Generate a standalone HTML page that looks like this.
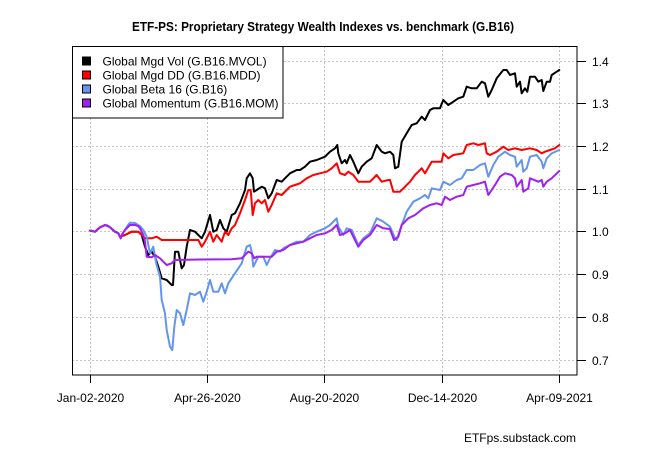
<!DOCTYPE html>
<html>
<head>
<meta charset="utf-8">
<style>
html,body{margin:0;padding:0;background:#fff;}
svg{display:block;}
text{font-family:"Liberation Sans",Arial,sans-serif;fill:#000;}
</style>
</head>
<body>
<svg width="650" height="450" viewBox="0 0 650 450" xmlns="http://www.w3.org/2000/svg">
<rect width="650" height="450" fill="#fff"/>
<text x="323" y="31" font-size="13" font-weight="bold" text-anchor="middle" textLength="382" lengthAdjust="spacingAndGlyphs">ETF-PS: Proprietary Strategy Wealth Indexes vs. benchmark (G.B16)</text>

<g stroke="#c4c4c4" stroke-width="1" stroke-dasharray="2,2" fill="none">
<line x1="90.5" y1="46" x2="90.5" y2="375"/>
<line x1="207.5" y1="46" x2="207.5" y2="375"/>
<line x1="324.5" y1="46" x2="324.5" y2="375"/>
<line x1="442.5" y1="46" x2="442.5" y2="375"/>
<line x1="559.5" y1="46" x2="559.5" y2="375"/>
<line x1="72" y1="61.5" x2="577" y2="61.5"/>
<line x1="72" y1="103.5" x2="577" y2="103.5"/>
<line x1="72" y1="146.5" x2="577" y2="146.5"/>
<line x1="72" y1="189.5" x2="577" y2="189.5"/>
<line x1="72" y1="231.5" x2="577" y2="231.5"/>
<line x1="72" y1="274.5" x2="577" y2="274.5"/>
<line x1="72" y1="317.5" x2="577" y2="317.5"/>
<line x1="72" y1="360.5" x2="577" y2="360.5"/>
</g>

<g fill="none" stroke-width="2" stroke-linejoin="round" stroke-linecap="round">
<polyline stroke="#000000" points="90,230.5 92,231 95,231.7 98,229 100,227.3 103,226 105,225 108,226 110,227.3 113,230 115,231.7 118.3,233.3 120,236.7 125,235 131.7,231.7 138.3,231.7 141.7,235 145,246.7 148.3,255 151.7,251.7 155,256.7 158.3,266.7 161.7,278.3 166.7,280 171.7,285 173,285 175,251.7 178.3,251.7 181.7,268.3 184,265 186.7,246.7 190,230 195,231.7 198.3,235 201.7,238.3 205,231.7 210,215 213.3,231.7 216.7,230 220,220 223.3,228.3 226.7,231.7 231.7,215 235,213.3 240,203.3 245,190 246.7,178.3 250,173.3 252.7,178.3 254,191.7 256.7,190 261.7,186.7 265,188.3 268.3,198.3 271.7,193.3 276.7,180 281.7,181.7 285,178.3 290,173.3 296.7,170 300,170 305,166.7 310,161.7 316.7,160 325,156.7 330,151.7 335,148.3 337.3,145 338.3,153.3 341.7,163.3 345,160 346.7,163.3 350,155 353.3,161.7 358.3,173.3 361.7,166.7 366.7,161.7 371.7,158.3 376.7,145 381.7,151.7 385,153.3 390,151.7 393.3,155 395,168.3 398.3,166.7 401.7,141.7 406.7,133.3 411.7,125 416.7,123.3 421.7,116.7 425,120 430,110 433.3,108.3 440,108.3 443.3,100 448.3,105 453.3,101.7 458.3,98.3 463.3,96.7 466.7,86.7 471.7,88.3 476.7,88.3 481.7,81.7 485,83.3 488.3,96.7 491.7,90 496.7,78.3 503.3,70 506.7,70 510,75 515,73.3 516.7,86.7 520,81.7 521.7,93.3 525,88.3 527.3,91.7 530,76.7 535,76.7 538.3,81.7 541.7,80 543.3,91 546.7,81.7 550,81.7 551.7,75 556.7,71.7 559.3,70"/>
<polyline stroke="#ff0000" points="90,230.5 92,231 95,231.7 98,229 100,227.3 103,226 105,225 108,226 110,227.3 113,230 115,231.7 118.3,233.3 120,236.7 125,235 131.7,231.7 138.3,231.7 141.7,235 145,238.3 151.7,238.3 156.7,236.7 161.7,240 198.3,240 201.7,246.7 205,241.7 210,231.7 213.3,241.7 216.7,235 221.7,241.7 225,231.7 228.3,235 231.7,228.3 235,225 240,213.3 245,200 248.3,190 250.7,190 252.7,215 255,203.3 258.3,200 261.7,203.3 265,200 268.3,211.7 271.7,205 276.7,193.3 281.7,195 286.7,190 290,186.7 295,185 300,183.3 306.7,178.3 313.3,175 320,173.3 326.7,171.7 331.7,168.3 336.7,163.3 340,173.3 345,175 348.3,171.7 353.3,175 358.3,181.7 370,181.7 376.7,175 381.7,181.7 388.3,180 390,180 393.3,191.7 400,191.7 405,186.7 410,181.7 415,175 421.7,168.3 425,173.3 431.7,161.7 441.7,161.7 443.3,153.3 448.3,158.3 453.3,155 463.3,153.3 466.7,145 473.3,143.3 478.3,145 485,143.3 486.7,153.3 490,155 496.7,151.7 503.3,146.7 508.3,150 515,148.3 521.7,150 530,148.3 536.7,150 541.7,153.3 545,151.7 550,150 555,148.3 559.3,145"/>
<polyline stroke="#6495ed" points="90,230.5 92,231 95,231.7 98,229 100,227.3 103,226 105,225 108,226 110,227.3 113,230 115,231.7 118.3,233.3 120.7,238.3 122.3,234 125,230 128,225 130,222.7 135,223 138,225 140,226 143.3,230 146.7,236.7 150,253.3 153.3,246.7 155,256.7 156.7,265 160,276.7 161.7,300 165,313.3 166.7,330 170,346.7 172.3,350 174.3,326.7 176.7,310 180,313.3 183.3,325 186.7,310 190,293.3 195,295 200,291.7 203.3,301.7 206.7,291.7 210,280 213.3,291.7 218.3,291.7 221.7,283.3 225,293.3 228.3,283.3 235,273.3 241.7,263.3 246.7,246.7 250,245 251.7,251.7 253.3,266.7 258.3,256.7 263.3,256.7 266.7,265 270,258.3 275,250 280,251.7 283.3,248.3 290,245 296.7,241.7 303.3,241.7 310,235 316.7,231.7 325,228.3 330,225 336.7,218.3 338.3,226.7 343.3,235 346.7,228.3 351.7,230 358.3,245 363.3,238.3 370,233.3 376.7,218.3 383.3,221.7 390,226.7 395,238.3 396.7,240 401.7,225 406.7,211.7 413.3,201.7 420,198.3 425,195 428.3,198.3 431.7,188.3 440,190 443.3,181.7 450,185 456.7,180 461.7,178.3 466.7,170 473.3,170 480,165 485,163.3 488.3,176.7 493.3,165 498.3,156.7 505,151.7 510,155 515,156.7 516.7,166.7 521.7,160 523.3,171.7 526.7,168.3 530,156.7 536.7,155 541.7,161.7 543.3,168.3 546.7,158.3 551.7,153.3 559.3,150"/>
<polyline stroke="#a020f0" points="90,230.5 92,231 95,231.7 98,229 100,227.3 103,226 105,225 108,226 110,227.3 113,230 115,231.7 118.3,233.3 120.7,238.3 122.3,234 125,230 128,227 130,225 135,225 138,226 140,228.3 143.3,235 145,241.7 146.7,256.7 151.7,257.3 155,255 160,258.3 163.3,261.7 166.7,265 171.7,263.3 175,260 200,259.5 231.7,259.3 241.7,258.3 248.3,251.7 251.7,253.3 254.3,258.3 256.7,256.7 265,256.7 271.7,256.7 276.7,251.7 283.3,250 290,245 296.7,243.3 303.3,241.7 310,238.3 316.7,235 325,233.3 331.7,230 336.7,225 340,235 345,233.3 350,230 358.3,246.7 363.3,240 370,235 376.7,225 383.3,228.3 390,229 394,240 398.3,236.7 401.7,225 408.3,218.3 415,215 423.3,208.3 430,205 436.7,203.3 441.7,205 445,196.7 450,200 456.7,196.7 463.3,195 466.7,186.7 473.3,185 480,183.3 485,181.7 488.3,195 495,185 500,176.7 505,173.3 511.7,175 515,178.3 516.7,186.7 521.7,180 523.3,191.7 528.3,188.3 530,178.3 538.3,181.7 541.7,180 543.3,186.7 546.7,181.7 551.7,178.3 559.3,171"/>
</g>

<!-- plot box -->
<rect x="72.5" y="46.5" width="504.5" height="328.5" fill="none" stroke="#000" stroke-width="1"/>

<!-- x axis ticks -->
<g stroke="#000" stroke-width="1">
<line x1="90.5" y1="375" x2="90.5" y2="383"/>
<line x1="207.5" y1="375" x2="207.5" y2="383"/>
<line x1="324.5" y1="375" x2="324.5" y2="383"/>
<line x1="442.5" y1="375" x2="442.5" y2="383"/>
<line x1="559.5" y1="375" x2="559.5" y2="383"/>
<line x1="577" y1="61.5" x2="586" y2="61.5"/>
<line x1="577" y1="103.5" x2="586" y2="103.5"/>
<line x1="577" y1="146.5" x2="586" y2="146.5"/>
<line x1="577" y1="189.5" x2="586" y2="189.5"/>
<line x1="577" y1="231.5" x2="586" y2="231.5"/>
<line x1="577" y1="274.5" x2="586" y2="274.5"/>
<line x1="577" y1="317.5" x2="586" y2="317.5"/>
<line x1="577" y1="360.5" x2="586" y2="360.5"/>
</g>

<g font-size="12" text-anchor="middle">
<text x="90.5" y="402">Jan-02-2020</text>
<text x="207.5" y="402">Apr-26-2020</text>
<text x="324.5" y="402">Aug-20-2020</text>
<text x="442.5" y="402">Dec-14-2020</text>
<text x="559.5" y="402">Apr-09-2021</text>
</g>
<g font-size="12">
<text x="592" y="66">1.4</text>
<text x="592" y="108">1.3</text>
<text x="592" y="151">1.2</text>
<text x="592" y="194">1.1</text>
<text x="592" y="236">1.0</text>
<text x="592" y="279">0.9</text>
<text x="592" y="322">0.8</text>
<text x="592" y="365">0.7</text>
</g>

<!-- legend -->
<rect x="72.5" y="46.5" width="210.5" height="71.5" fill="#fff" stroke="#000" stroke-width="1"/>
<g stroke="#000" stroke-width="1">
<rect x="82.5" y="57" width="8" height="8" fill="#000000"/>
<rect x="82.5" y="71" width="8" height="8" fill="#ff0000"/>
<rect x="82.5" y="85" width="8" height="8" fill="#6495ed"/>
<rect x="82.5" y="99" width="8" height="8" fill="#a020f0"/>
</g>
<g font-size="12">
<text x="102.5" y="65.5">Global Mgd Vol (G.B16.MVOL)</text>
<text x="102.5" y="79.5">Global Mgd DD (G.B16.MDD)</text>
<text x="102.5" y="93.5">Global Beta 16 (G.B16)</text>
<text x="102.5" y="107.5">Global Momentum (G.B16.MOM)</text>
</g>

<text x="576" y="442" font-size="12" text-anchor="end">ETFps.substack.com</text>
</svg>
</body>
</html>
